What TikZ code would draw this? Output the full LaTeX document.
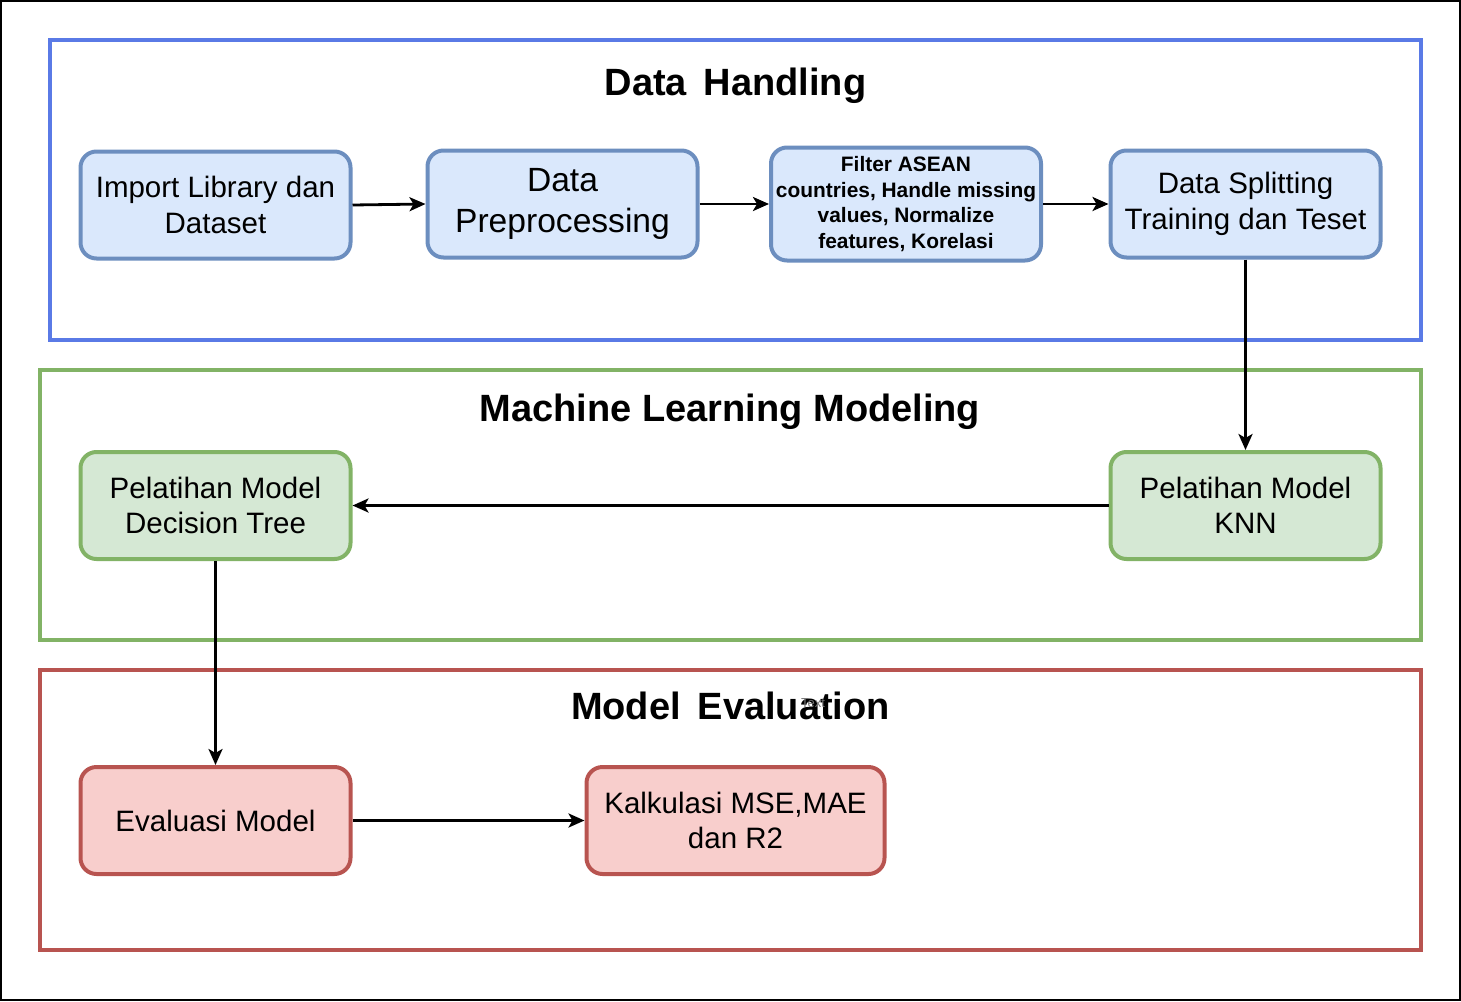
\documentclass[tikz,border=0pt]{standalone}
\usepackage{fontspec}
\setmainfont{Liberation Sans}
\usetikzlibrary{arrows.meta}
\definecolor{bfill}{HTML}{DAE8FC}
\definecolor{bline}{HTML}{6C8EBF}
\definecolor{gfill}{HTML}{D5E8D4}
\definecolor{gline}{HTML}{82B366}
\definecolor{rfill}{HTML}{F8CECC}
\definecolor{rline}{HTML}{B85450}
\definecolor{frameblue}{HTML}{5A7AE6}
\tikzset{
  box/.style={rounded corners=16pt, line width=4pt, minimum width=270pt, minimum height=107pt, align=center, inner sep=0pt},
  bluebox/.style={box, draw=bline, fill=bfill},
  greenbox/.style={box, draw=gline, fill=gfill},
  redbox/.style={box, draw=rline, fill=rfill},
  frame/.style={line width=4pt},
  title/.style={font=\bfseries\fontsize{38}{44}\selectfont},
  bodytext/.style={font=\fontsize{29.5}{35.4}\selectfont},
  conn/.style={line width=2.8pt, -{Stealth[length=16pt,width=14pt,inset=4pt]}},
}
\begin{document}
\begin{tikzpicture}[x=1pt,y=-1pt]
\useasboundingbox (0,0) rectangle (1461,1001);
\draw[line width=2pt] (1,1) rectangle (1460,1000);

% frames
\draw[frame, draw=frameblue] (50,40) rectangle (1421,340);
\draw[frame, draw=gline] (40,370) rectangle (1421,640);
\draw[frame, draw=rline] (40,670) rectangle (1421,950);

% titles
\node[title] (t1) at (735.5,86) {Data\, Handling};
\node[title] (t2) at (730,412) {Machine Learning Modeling};
\node[title] (t3) at (730.5,706) {Model\, Evaluation};
\node[font=\fontsize{13}{15}\selectfont, text=black!55] (ghost) at (813,703) {Text};

% blue nodes
\node[bluebox, bodytext] (A) at (215.5,205) {Import Library dan\\Dataset};
\node[bluebox, font=\fontsize{33.6}{41}\selectfont] (B) at (562.5,204) {Data\\Preprocessing};
\node[bluebox, minimum height=113pt, font=\bfseries\fontsize{20.9}{25.4}\selectfont] (C) at (906,204) {Filter ASEAN\\countries, Handle missing\\values, Normalize\\features, Korelasi};
\node[bluebox, bodytext] (D) at (1245.5,204) {Data Splitting\\Training dan Teset};

% green nodes
\node[greenbox, bodytext] (E) at (215.5,505.5) {Pelatihan Model\\Decision Tree};
\node[greenbox, bodytext] (F) at (1245.5,505.5) {Pelatihan Model\\KNN};

% red nodes
\node[redbox, bodytext] (G) at (215.5,820.5) {Evaluasi Model};
\node[redbox, bodytext, minimum width=298pt] (H) at (735.5,820.5) {Kalkulasi MSE,MAE\\dan R2};

% connectors
\draw[conn] (A.east) -- (B.west);
\draw[conn] (B.east) -- (C.west);
\draw[conn] (C.east) -- (D.west);
\draw[conn] (D.south) -- (F.north);
\draw[conn] (F.west) -- (E.east);
\draw[conn] (E.south) -- (G.north);
\draw[conn] (G.east) -- (H.west);
\end{tikzpicture}
\end{document}
